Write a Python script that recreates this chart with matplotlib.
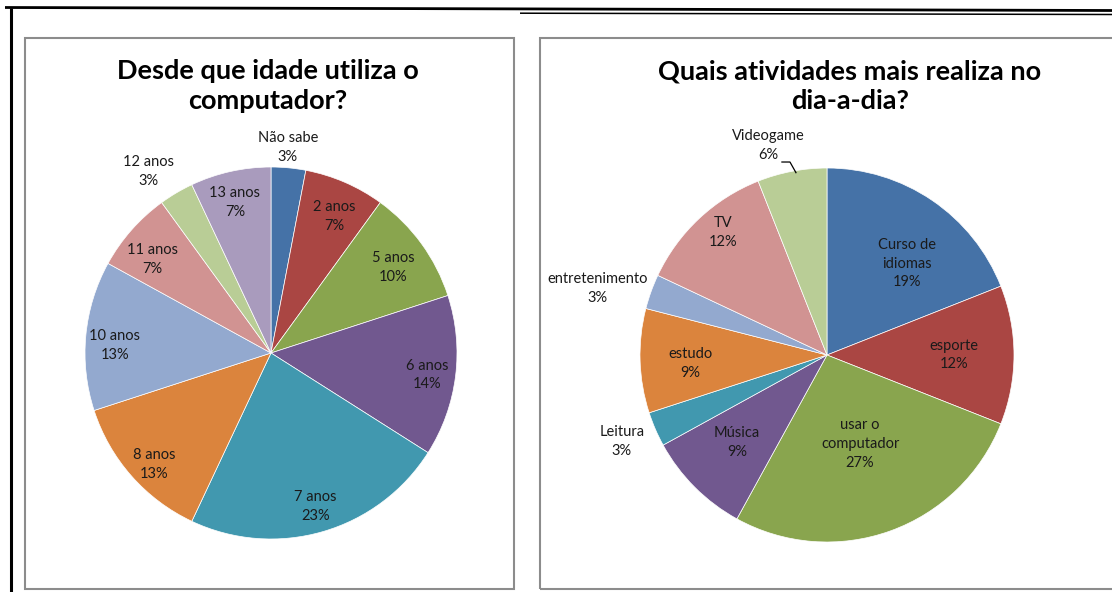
import matplotlib
matplotlib.use("Agg")
import matplotlib.pyplot as plt
from matplotlib.patches import Rectangle
from matplotlib.lines import Line2D
import numpy as np

plt.rcParams['font.family'] = ['Lato', 'DejaVu Sans']

# left chart: age when started using the computer
idade_labels = ['Não sabe', '2 anos', '5 anos', '6 anos', '7 anos',
                '8 anos', '10 anos', '11 anos', '12 anos', '13 anos']
idade_pct = [3, 7, 10, 14, 23, 13, 13, 7, 3, 7]

# right chart: daily activities
ativ_labels = ['Curso de\nidiomas', 'esporte', 'usar o\ncomputador', 'Música',
               'Leitura', 'estudo', 'entretenimento', 'TV', 'Videogame']
ativ_pct = [19, 12, 27, 9, 3, 9, 3, 12, 6]

colors = ['#4572A7', '#AA4643', '#89A54E', '#71588F', '#4198AF',
          '#DB843D', '#93A9CF', '#D19392', '#B9CD96', '#A99BBD']

# label placement: (distance from centre in radii, angle shift in degrees)
idade_lab_pos = [(1.11, 0.7), (0.81, -1.5), (0.80, -1.1), (0.85, -0.8), (0.86, 0),
                 (0.87, 2.3), (0.84, 2.5), (0.81, 3.2), (1.18, 3.4), (0.83, 0.9)]
ativ_lab_pos = [(0.65, -7), (0.68, 0), (0.51, 0.5), (0.67, -1), (1.19, -0.6),
                (0.73, 1.6), (1.28, 3.6), (0.86, -3), (1.165, 4.9)]

W, H = 1112, 592


def px_axes(fig, x0, y0, x1, y1):
    # pixel box (top-left origin) -> figure axes
    return fig.add_axes([x0 / W, 1 - y1 / H, (x1 - x0) / W, (y1 - y0) / H])


def fig_line(fig, x0, y0, x1, y1, lw):
    fig.add_artist(Line2D([x0 / W, x1 / W], [1 - y0 / H, 1 - y1 / H],
                          color='black', lw=lw, solid_capstyle='butt'))


def draw_pie(fig, cx, cy, r, values, labels, lab_pos, title, title_x):
    ax = px_axes(fig, cx - r, cy - r, cx + r, cy + r)
    wedges, _ = ax.pie(values, colors=colors[:len(values)], startangle=90,
                       counterclock=False,
                       wedgeprops=dict(edgecolor='white', linewidth=0.5))
    ax.set_xlim(-1, 1)
    ax.set_ylim(-1, 1)
    ax.set_aspect('equal')
    ax.axis('off')
    for w, lab, v, (d, shift) in zip(wedges, labels, values, lab_pos):
        ang = np.deg2rad((w.theta1 + w.theta2) / 2 + shift)
        ax.text(d * np.cos(ang), d * np.sin(ang), f"{lab}\n{v}%",
                ha='center', va='center', fontsize=10.5, color='#1a1a1a',
                linespacing=1.45)
    fig.text(title_x / W, 1 - 86 / H, title, ha='center', va='center',
             fontsize=19.5, fontweight='bold', linespacing=1.27)
    return ax, wedges


def main():
    fig = plt.figure(figsize=(W / 100, H / 100), dpi=100)

    # outer page lines
    fig_line(fig, 5, 7.5, W, 10.5, 2.0)
    fig_line(fig, 520, 13.2, W, 14.5, 1.1)
    fig_line(fig, 10.5, 8, 10.5, H, 2.2)

    # chart boxes
    for x0, x1 in [(25, 514), (540, 1116)]:
        fig.add_artist(Rectangle((x0 / W, 1 - 589 / H), (x1 - x0) / W, 551 / H,
                                 transform=fig.transFigure, fill=False,
                                 edgecolor='#8c8c8c', lw=1.5))

    draw_pie(fig, 271, 353, 186, idade_pct, idade_labels, idade_lab_pos,
             'Desde que idade utiliza o\ncomputador?', 268)

    ax, wedges = draw_pie(fig, 827, 355, 187, ativ_pct, ativ_labels, ativ_lab_pos,
                          'Quais atividades mais realiza no\ndia-a-dia?', 850)

    # leader line for the Videogame label
    ax.plot([-0.241, -0.198, -0.166], [1.032, 1.032, 0.975],
            color='black', lw=0.9, clip_on=False)

    fig.savefig('out.png', dpi=100, facecolor='white')


if __name__ == "__main__":
    main()
